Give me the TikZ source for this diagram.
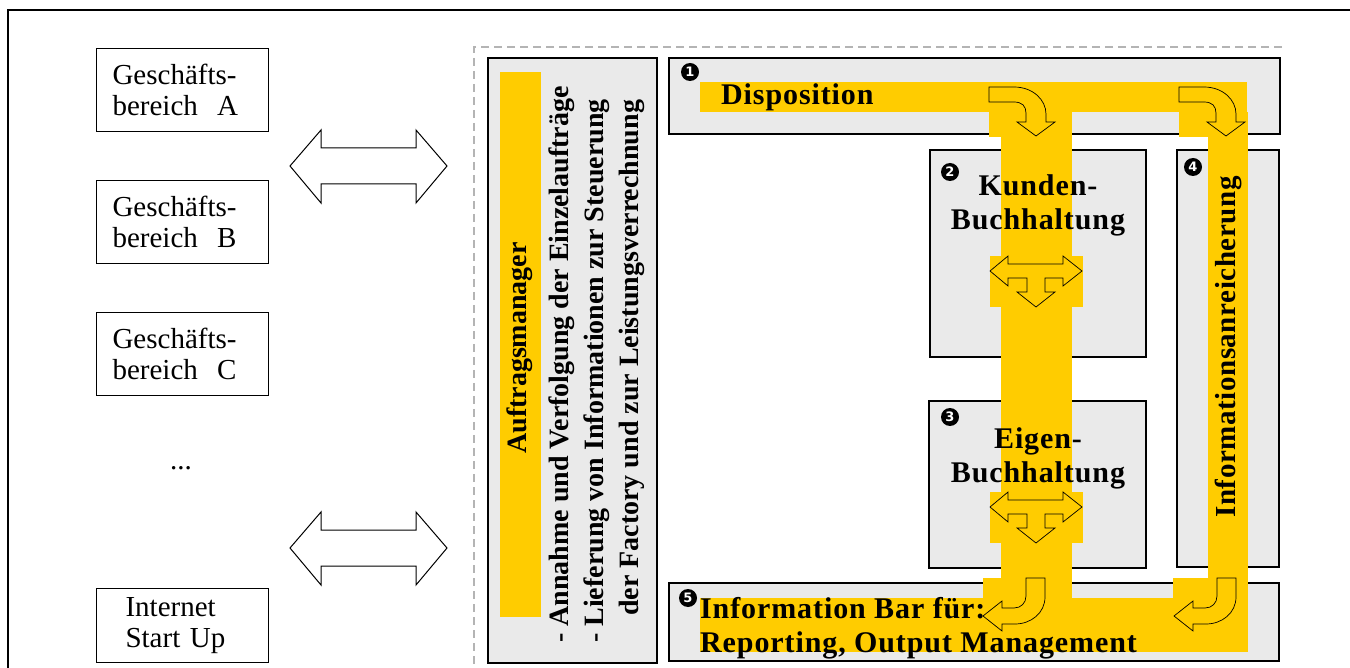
\documentclass[tikz,border=0pt]{standalone}
\usepackage{fontspec}
\setmainfont{Liberation Serif}
\newfontfamily\numfont{DejaVu Sans}
\newfontfamily\rsp[LetterSpace=3]{Liberation Serif}
\newfontfamily\rspb[LetterSpace=2]{Liberation Serif}
\definecolor{ylw}{HTML}{FFCC00}
\definecolor{boxgray}{HTML}{EAEAEA}
\definecolor{dashgray}{HTML}{B4B4B4}
\begin{document}
\begin{tikzpicture}[x=1pt,y=-1pt,
  gbox/.style={draw=black,line width=1.6pt,fill=boxgray,inner sep=0pt,anchor=north west},
  lbox/.style={draw=black,line width=1.1pt,fill=white,anchor=north west,minimum width=172pt,minimum height=83pt,align=left,text width=140pt,inner xsep=16pt,inner ysep=0pt,font={\fontsize{29}{31}\selectfont}},
  barrow/.style={fill=ylw,draw=black,line width=0.7pt,line join=miter},
  wbarrow/.style={fill=white,draw=black,line width=1pt,line join=miter},
  num/.style={circle,fill=black,text=white,minimum size=18pt,inner sep=0pt,font={\numfont\bfseries\fontsize{13}{13}\selectfont}},
  btxt/.style={font={\rsp\bfseries\fontsize{30}{34}\selectfont},inner sep=0pt},
  mtxt/.style={font={\bfseries\fontsize{28}{35}\selectfont},inner sep=0pt},
]
\useasboundingbox (0,0) rectangle (1350,668);
\clip (0,0) rectangle (1350,668);
% outer frame
\draw[line width=2pt] (8,700) -- (8,10) -- (1370,10);
% dashed frame
\draw[dashgray,line width=2pt,dash pattern=on 8pt off 5pt] (1282,47) -- (474,47) -- (474,700);

% left boxes
\node[lbox] (ga) at (96,48) {Geschäfts-\\bereich~ A};
\node[lbox] (gb) at (96,180) {Geschäfts-\\bereich~ B};
\node[lbox] (gc) at (96,312) {Geschäfts-\\bereich~ C};
\node[font={\fontsize{29}{31}\selectfont},inner sep=0pt] (dots) at (181,468) {...};
\node[lbox,minimum height=74pt,inner xsep=29pt,text width=114pt] (inet) at (96,588) {Internet\\Start Up};

% double arrows
\draw[wbarrow] (290,166) -- (321,130) -- (321,148) -- (416,148) -- (416,130) -- (447,166) -- (416,203) -- (416,184) -- (321,184) -- (321,203) -- cycle;
\draw[wbarrow] (290,548) -- (321,512) -- (321,530) -- (416,530) -- (416,512) -- (447,548) -- (416,585) -- (416,566) -- (321,566) -- (321,585) -- cycle;

% Auftragsmanager
\node[gbox,minimum width=169pt,minimum height=605pt] (am) at (487,57) {};
\fill[ylw] (500,72) rectangle (541,617);
\node[mtxt,rotate=90] (amt) at (520,348) {Auftragsmanager};
\node[mtxt,rotate=90,anchor=north west,align=left] (aml) at (549,643)
  {- Annahme und Verfolgung der Einzelaufträge\\- Lieferung von Informationen zur Steuerung\\\hspace*{27pt}der Factory und zur Leistungsverrechnung};

% right gray boxes
\node[gbox,minimum width=611pt,minimum height=76pt] (disp) at (668,57) {};
\node[gbox,minimum width=216pt,minimum height=207pt] (kunden) at (929,149) {};
\node[gbox,minimum width=217pt,minimum height=167pt] (eigen) at (928,400) {};
\node[gbox,minimum width=102pt,minimum height=417pt] (info) at (1176,149) {};
\node[gbox,minimum width=610pt,minimum height=78pt] (bar) at (668,582) {};

% yellow flow
\fill[ylw] (700,82) rectangle (1247,112);
\fill[ylw] (989,82) rectangle (1072,137);
\fill[ylw] (1179,82) rectangle (1247,137);
\fill[ylw] (1001,112) rectangle (1072,600);
\fill[ylw] (1208,112) rectangle (1248,652);
\fill[ylw] (990,256) rectangle (1083,307);
\fill[ylw] (990,492) rectangle (1083,543);
\fill[ylw] (983,578) rectangle (1072,600);
\fill[ylw] (1173,578) rectangle (1248,600);
\fill[ylw] (700,598) rectangle (1248,652);

% numbers
\node[num] (n1) at (690,72) {1};
\node[num] (n2) at (950,172) {2};
\node[num] (n3) at (950,417) {3};
\node[num] (n4) at (1193,167) {4};
\node[num] (n5) at (688,598) {5};

% texts
\node[btxt,anchor=west] (dispt) at (721,97) {Disposition};
\node[btxt,align=center] (kt) at (1038,205) {Kunden-\\Buchhaltung};
\node[btxt,align=center] (et) at (1038,458) {Eigen-\\Buchhaltung};
\node[font={\rspb\bfseries\fontsize{29}{34}\selectfont},inner sep=0pt,rotate=90] (it) at (1228,347) {Informationsanreicherung};
\node[btxt,anchor=north west,align=left] (bt) at (700,597) {Information Bar für:\\Reporting, Output Management};

% bent arrows top
\draw[barrow] (989,87) -- (1014,87) .. controls (1033,87) and (1046,100) .. (1046,114) -- (1046,122) -- (1055,122) -- (1036,136) -- (1017,122) -- (1026,122) -- (1026,113) .. controls (1026,106) and (1022,102) .. (1014,102) -- (989,102) -- cycle;
\draw[barrow] (1179,87) -- (1204,87) .. controls (1223,87) and (1236,100) .. (1236,114) -- (1236,122) -- (1245,122) -- (1226,136) -- (1207,122) -- (1216,122) -- (1216,113) .. controls (1216,106) and (1212,102) .. (1204,102) -- (1179,102) -- cycle;
% T arrows
\draw[barrow] (990,271) -- (1008,256) -- (1008,264) -- (1063,264) -- (1063,256) -- (1082,271) -- (1063,286) -- (1063,278) -- (1045,278) -- (1045,292) -- (1055,292) -- (1036,307) -- (1017,292) -- (1027,292) -- (1027,278) -- (1008,278) -- (1008,286) -- cycle;
\draw[barrow] (990,507) -- (1008,492) -- (1008,500) -- (1063,500) -- (1063,492) -- (1082,507) -- (1063,522) -- (1063,514) -- (1045,514) -- (1045,528) -- (1055,528) -- (1036,543) -- (1017,528) -- (1027,528) -- (1027,514) -- (1008,514) -- (1008,522) -- cycle;
% bent arrows bottom
\draw[barrow] (1026,578) -- (1045,578) -- (1045,597) .. controls (1045,613) and (1031,624) .. (1015,624) -- (1002,624) -- (1002,631) -- (983,616) -- (1002,601) -- (1002,608) -- (1014,608) .. controls (1021,608) and (1026,603) .. (1026,596) -- cycle;
\draw[barrow] (1217,578) -- (1236,578) -- (1236,597) .. controls (1236,613) and (1222,624) .. (1206,624) -- (1193,624) -- (1193,631) -- (1174,616) -- (1193,601) -- (1193,608) -- (1205,608) .. controls (1212,608) and (1217,603) .. (1217,596) -- cycle;
\end{tikzpicture}
\end{document}
